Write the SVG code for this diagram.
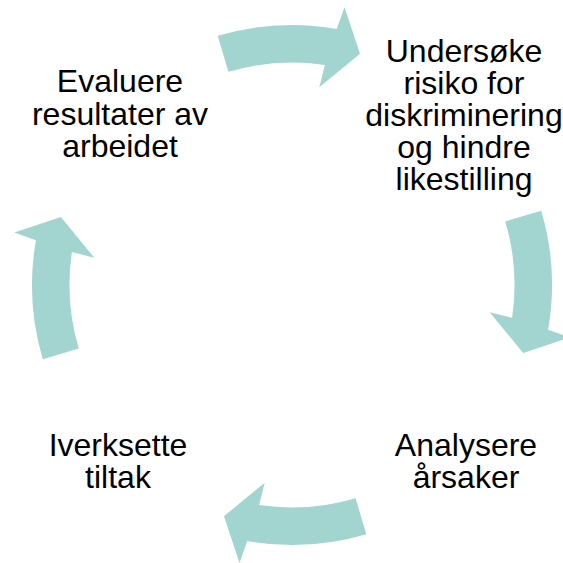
<svg xmlns="http://www.w3.org/2000/svg" width="563" height="563" viewBox="0 0 563 563">
<defs>
<style>
.arrow{fill:#A3D5D0;stroke:none}
.lbl{font-family:"Liberation Sans",Arial,sans-serif;font-size:32px;fill:#000;text-anchor:middle}
</style>
<path id="arc" d="M217.7,35.8 A260,260 0 0 1 336.7,28.9 L344.5,7.3 L360,53.8 L319.3,87.3 L324.9,64.9 A222.5,222.5 0 0 0 228.4,71.8 Z"/>
</defs>
<rect width="563" height="563" fill="#fff"/>
<g id="connectors">
<use href="#arc" class="arrow"/>
<use href="#arc" class="arrow" transform="rotate(90 292 285)"/>
<use href="#arc" class="arrow" transform="rotate(180 292 285)"/>
<use href="#arc" class="arrow" transform="rotate(270 292 285)"/>
</g>
<g id="node-undersoke">
<text class="lbl" x="464" y="62">Undersøke</text>
<text class="lbl" x="464" y="94">risiko for</text>
<text class="lbl" x="464" y="126">diskriminering</text>
<text class="lbl" x="464" y="158">og hindre</text>
<text class="lbl" x="464" y="190">likestilling</text>
</g>
<g id="node-analysere">
<text class="lbl" x="466" y="456">Analysere</text>
<text class="lbl" x="466" y="488">årsaker</text>
</g>
<g id="node-iverksette">
<text class="lbl" x="118" y="456">Iverksette</text>
<text class="lbl" x="118" y="488">tiltak</text>
</g>
<g id="node-evaluere">
<text class="lbl" x="120" y="92">Evaluere</text>
<text class="lbl" x="120" y="124.5">resultater av</text>
<text class="lbl" x="120" y="157">arbeidet</text>
</g>
</svg>
